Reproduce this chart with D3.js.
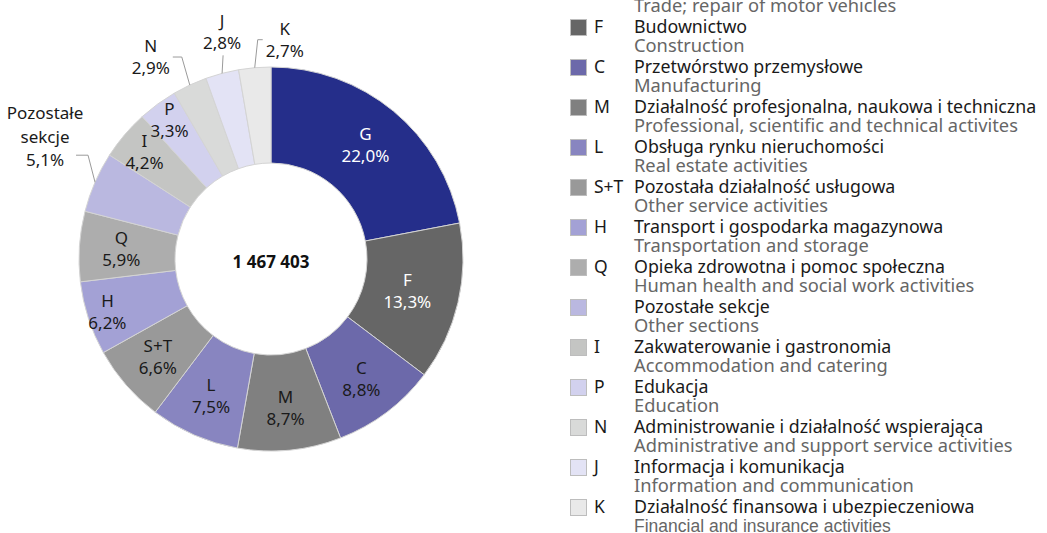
<!DOCTYPE html>
<meta charset="utf-8">
<title>Donut</title>
<style>
    body {
        margin: 0;
        background: #fff;
        font-family: "Noto Sans", sans-serif;
    }
</style>

<body>
    <div id="chart"></div>

    <script src="https://cdn.jsdelivr.net/npm/d3@7"></script>
    <script>
        // data
        var codes = ["G", "F", "C", "M", "L", "S+T", "H", "Q", "", "I", "P", "N", "J", "K"];
        var sliceLabels = ["G", "F", "C", "M", "L", "S+T", "H", "Q", "Pozostałe sekcje", "I", "P", "N", "J", "K"];
        var shares = [22.0, 13.3, 8.8, 8.7, 7.5, 6.6, 6.2, 5.9, 5.1, 4.2, 3.3, 2.9, 2.8, 2.7];
        var namesPl = [
            "Handel; naprawa pojazdów samochodowych",
            "Budownictwo",
            "Przetwórstwo przemysłowe",
            "Działalność profesjonalna, naukowa i techniczna",
            "Obsługa rynku nieruchomości",
            "Pozostała działalność usługowa",
            "Transport i gospodarka magazynowa",
            "Opieka zdrowotna i pomoc społeczna",
            "Pozostałe sekcje",
            "Zakwaterowanie i gastronomia",
            "Edukacja",
            "Administrowanie i działalność wspierająca",
            "Informacja i komunikacja",
            "Działalność finansowa i ubezpieczeniowa"
        ];
        var namesEn = [
            "Trade; repair of motor vehicles",
            "Construction",
            "Manufacturing",
            "Professional, scientific and technical activites",
            "Real estate activities",
            "Other service activities",
            "Transportation and storage",
            "Human health and social work activities",
            "Other sections",
            "Accommodation and catering",
            "Education",
            "Administrative and support service activities",
            "Information and communication",
            "Financial and insurance activities"
        ];
        var colors = ["#252e8a", "#666666", "#6c69aa", "#808080", "#8885c0", "#999999", "#a3a1d5",
            "#adadad", "#bab8e0", "#c4c5c3", "#d2d1ee", "#d9dad9", "#e3e3f5", "#e9e9e9"];
        var total = "1 467 403";

        var data = codes.map(function(c, i) {
            return {code: c, label: sliceLabels[i], value: shares[i], pl: namesPl[i], en: namesEn[i], color: colors[i]};
        });

        var width = 1047,
            height = 533,
            cx = 271,
            cy = 259,
            rOuter = 192,
            rInner = 96;

        var pl = d3.formatLocale({decimal: ",", thousands: " ", grouping: [3], currency: ["", ""]});
        var pct = function(v) { return pl.format(".1f")(v) + "%"; };

        var svg = d3.select("#chart")
            .append("svg")
            .attr("width", width)
            .attr("height", height);

        var g = svg.append("g")
            .attr("transform", "translate(" + cx + "," + cy + ")");

        var pie = d3.pie()
            .sort(null)
            .value(function(d) { return d.value; });

        var arc = d3.arc()
            .innerRadius(rInner)
            .outerRadius(rOuter);

        var arcs = pie(data);

        g.selectAll(".slice")
            .data(arcs)
            .enter()
            .append("path")
            .attr("class", "slice")
            .attr("d", arc)
            .attr("fill", function(d) { return d.data.color; })
            .attr("stroke", "#d4d4d4")
            .attr("stroke-width", 1);

        // labels inside the ring; some small ones pushed outward like in the original
        var labelRadius = {"G": 148, "F": 140, "H": 172, "P": 172, "I": 166};
        var outside = {
            // elbow offset from the arc edge, horizontal run, label side
            "K": {ex: 3, ey: -28, run: 5, dir: 1},
            "J": {ex: 1, ey: -18, run: 0, dir: 0},
            "N": {ex: -8, ey: -28, run: -9, dir: -1},
            "Pozostałe sekcje": {ex: -7, ey: -27, run: -12, dir: -1}
        };

        function polar(a, r) {
            return [Math.sin(a) * r, -Math.cos(a) * r];
        }

        arcs.forEach(function(d) {
            var mid = (d.startAngle + d.endAngle) / 2;
            var key = d.data.label;
            var lines = key === "Pozostałe sekcje" ? ["Pozostałe", "sekcje", pct(d.data.value)] : [key, pct(d.data.value)];
            var fill = (d.index < 2) ? "#ffffff" : "#1a1a1a";
            var o = outside[key];
            var tx, ty;

            if (o) {
                var p0 = polar(mid, rOuter);
                var p1 = [p0[0] + o.ex, p0[1] + o.ey];
                var p2 = [p1[0] + o.run, p1[1]];
                g.append("polyline")
                    .attr("points", [p0, p1, p2].map(function(p) { return p.join(","); }).join(" "))
                    .attr("fill", "none")
                    .attr("stroke", "#9a9a9a")
                    .attr("stroke-width", 1);
                if (o.dir === 0) {
                    tx = p2[0] - 1;
                    ty = p2[1] - 12 - (lines.length - 1) * 22;
                } else if (key === "Pozostałe sekcje") {
                    tx = p2[0] - 31;
                    ty = p2[1] + 5 - (lines.length - 1) * 23.5;
                } else {
                    tx = p2[0] + o.dir * 22;
                    ty = p2[1] - 11;
                }
                fill = "#1a1a1a";
            } else {
                var r = labelRadius[key] || 150;
                var c = polar(mid, r);
                tx = c[0];
                ty = c[1] - 11;
            }

            var t = g.append("text")
                .attr("text-anchor", "middle")
                .attr("fill", fill)
                .style("font-size", "17px");
            lines.forEach(function(s, i) {
                t.append("tspan")
                    .attr("x", tx)
                    .attr("y", ty + i * (key === "Pozostałe sekcje" ? 23.5 : 22))
                    .attr("dy", "0.35em")
                    .text(s);
            });
        });

        g.append("text")
            .attr("x", 0)
            .attr("y", 3)
            .attr("dy", "0.35em")
            .attr("text-anchor", "middle")
            .attr("fill", "#111")
            .style("font-size", "17px")
            .style("font-weight", "bold")
            .text(total);

        // legend, first entry starts above the visible area as in the original crop
        var lx = 570,
            ly0 = -13,
            step = 40;

        var leg = svg.selectAll(".leg")
            .data(data)
            .enter()
            .append("g")
            .attr("class", "leg")
            .attr("transform", function(d, i) { return "translate(" + lx + "," + (ly0 + i * step) + ")"; });

        leg.append("rect")
            .attr("x", 0.5)
            .attr("y", -7.5)
            .attr("width", 16)
            .attr("height", 16)
            .attr("fill", function(d) { return d.color; })
            .attr("stroke", "#bdbdbd")
            .attr("stroke-width", 1);

        leg.append("text")
            .attr("x", 24)
            .attr("y", 0)
            .attr("dy", "0.35em")
            .attr("fill", "#1a1a1a")
            .style("font-size", "17.5px")
            .text(function(d) { return d.code; });

        leg.append("text")
            .attr("x", 64)
            .attr("y", 0)
            .attr("dy", "0.35em")
            .attr("fill", "#1a1a1a")
            .style("font-size", "17.8px")
            .text(function(d) { return d.pl; });

        leg.append("text")
            .attr("x", 64)
            .attr("y", 19)
            .attr("dy", "0.35em")
            .attr("fill", "#666")
            .style("font-size", function(d, i) { return i === data.length - 1 ? "17.5px" : "18.3px"; })
            .style("font-family", function(d, i) { return i === data.length - 1 ? "'Liberation Sans', Arial, sans-serif" : null; })
            .text(function(d) { return d.en; });
    </script>
</body>
